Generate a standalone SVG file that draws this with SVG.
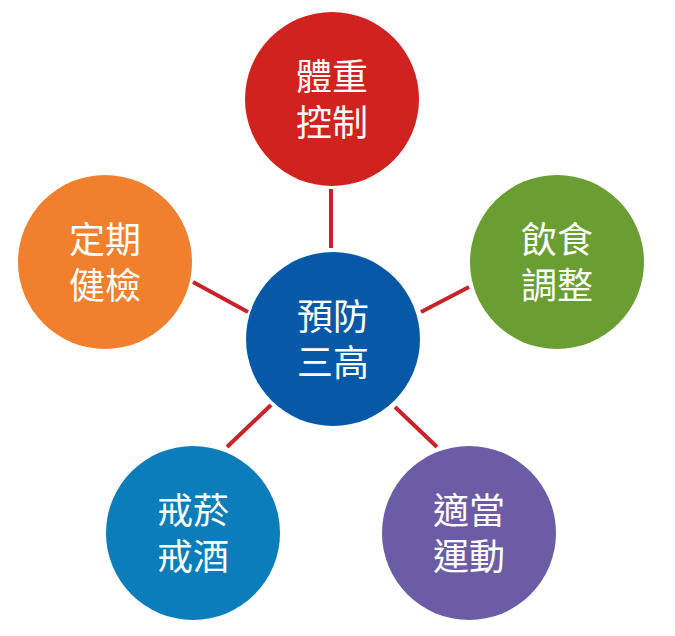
<svg xmlns="http://www.w3.org/2000/svg" width="675" height="636" viewBox="0 0 675 636">
<style>
.c{stroke:none}
.t{font-family:"Liberation Sans","Noto Sans CJK TC","Noto Sans CJK SC",sans-serif;font-size:36px;fill:#fff;text-anchor:middle}
.l{stroke:#C8232A;stroke-width:4;fill:none}
</style>
<rect width="675" height="636" fill="#fff"/>
<g id="connectors">
<line class="l" x1="331" y1="189" x2="331" y2="248"/>
<line class="l" x1="193" y1="282" x2="248" y2="312"/>
<line class="l" x1="421" y1="312" x2="469" y2="287"/>
<line class="l" x1="271" y1="405" x2="227" y2="447"/>
<line class="l" x1="395" y1="407" x2="437" y2="447"/>
</g>
<g id="center">
<circle class="c" cx="333" cy="339" r="87" fill="#0759A8"/>
<text class="t" x="333" y="330">預防</text>
<text class="t" x="333" y="376">三高</text>
</g>
<g id="weight">
<circle class="c" cx="332" cy="99" r="87" fill="#D0221F"/>
<text class="t" x="332" y="90">體重</text>
<text class="t" x="332" y="136">控制</text>
</g>
<g id="diet">
<circle class="c" cx="557" cy="262" r="87" fill="#6A9E32"/>
<text class="t" x="557" y="253">飲食</text>
<text class="t" x="557" y="299">調整</text>
</g>
<g id="checkup">
<circle class="c" cx="105" cy="262" r="87" fill="#F07F2E"/>
<text class="t" x="105" y="253">定期</text>
<text class="t" x="105" y="299">健檢</text>
</g>
<g id="smoke">
<circle class="c" cx="193" cy="533" r="87" fill="#0A7DBA"/>
<text class="t" x="193" y="524">戒菸</text>
<text class="t" x="193" y="570">戒酒</text>
</g>
<g id="exercise">
<circle class="c" cx="469" cy="533" r="87" fill="#6C5BA5"/>
<text class="t" x="469" y="524">適當</text>
<text class="t" x="469" y="570">運動</text>
</g>
</svg>
